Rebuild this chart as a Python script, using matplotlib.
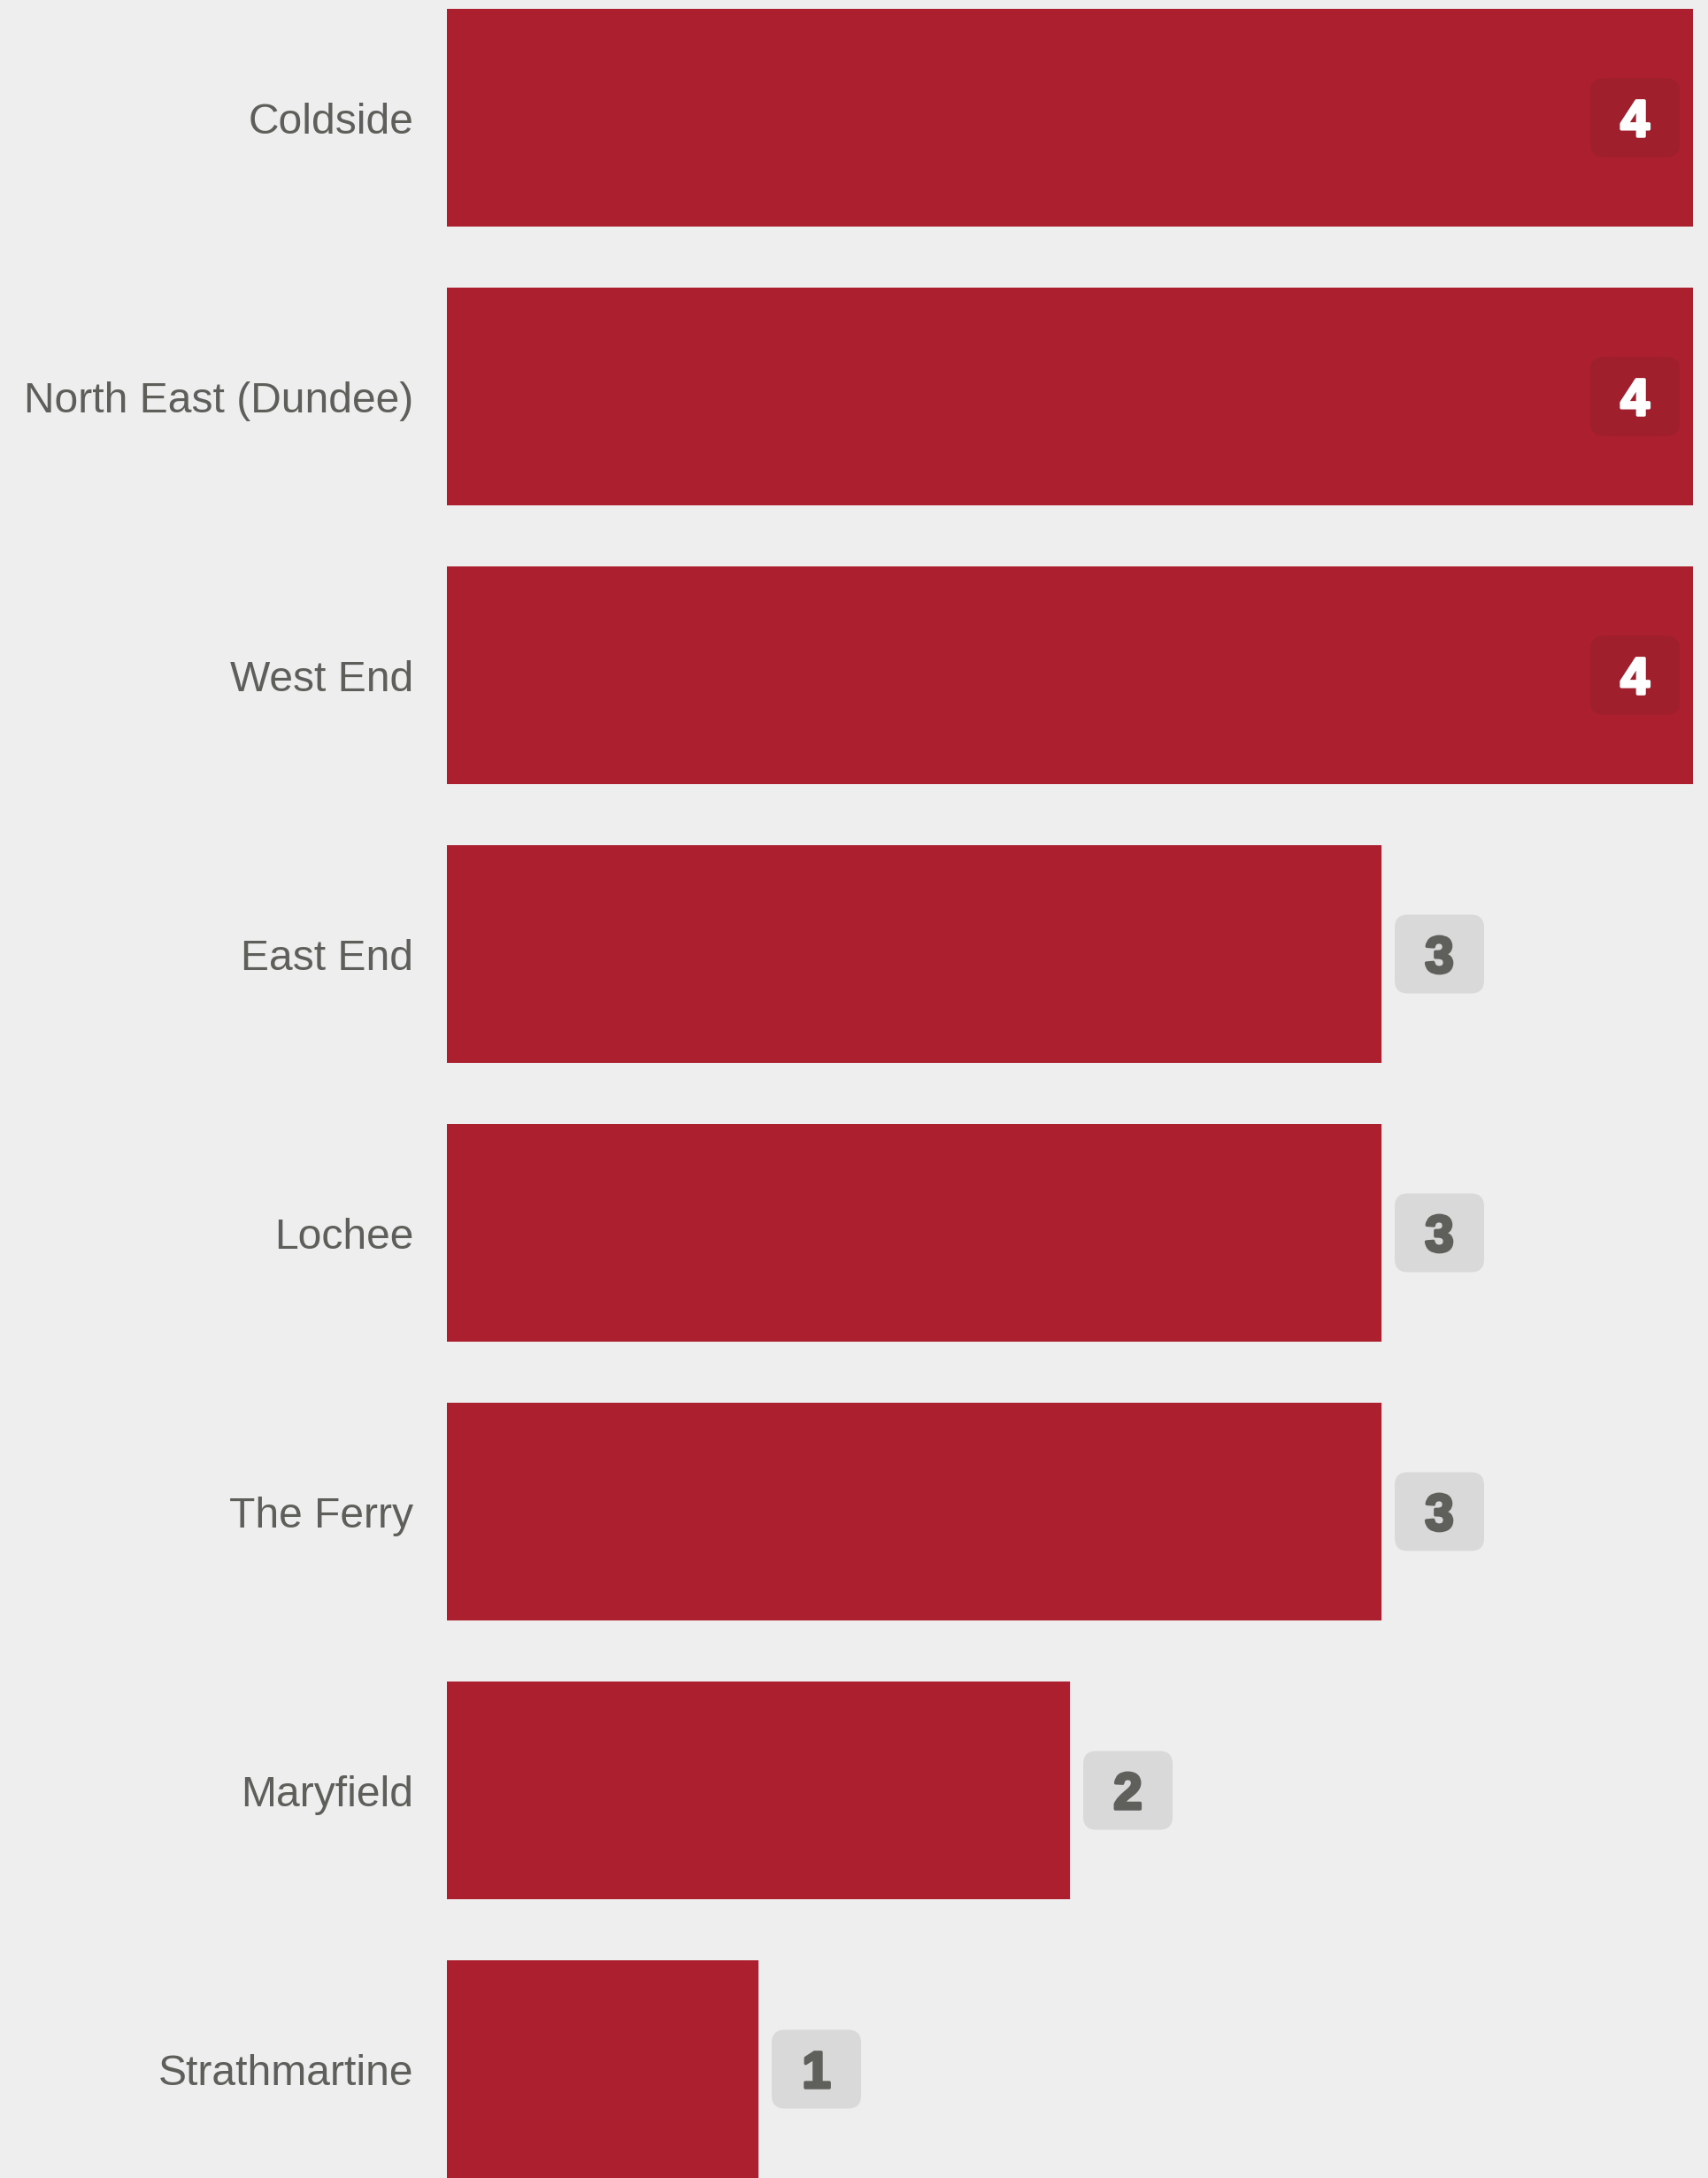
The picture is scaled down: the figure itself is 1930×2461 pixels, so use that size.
import matplotlib.pyplot as plt
import matplotlib.patheffects as pe
from matplotlib.patches import FancyBboxPatch

# Data
wards = [
    "Coldside",
    "North East (Dundee)",
    "West End",
    "East End",
    "Lochee",
    "The Ferry",
    "Maryfield",
    "Strathmartine",
]
counts = [4, 4, 4, 3, 3, 3, 2, 1]

bg = "#eeeeee"
bar_color = "#ab1f2e"
text_color = "#5e5e5b"

fig = plt.figure(figsize=(19.3, 24.61), dpi=100, facecolor=bg)
ax = fig.add_axes([0, 0, 1, 1])
ax.set_facecolor(bg)

# pixel scale: 352 px per unit in x, 315 px per row in y
px_x = 352.0
px_y = 315.0
ax.set_xlim(-505 / px_x, (1930 - 505) / px_x)
ax.set_ylim((2461 - 133) / px_y, -133 / px_y)

y_pos = list(range(len(wards)))
ax.barh(y_pos, counts, height=246 / px_y, color=bar_color, left=0)

max_val = max(counts)
box_w = 101 / px_x
box_h = 89 / px_y
gap = 15 / px_x

for y, name, v in zip(y_pos, wards, counts):
    ax.text(-38 / px_x, y + 18 / px_y, name, ha="right", va="baseline",
            fontsize=34.6, color=text_color, family="Liberation Sans")

    if v == max_val:
        x0 = v - gap - box_w
        fc = "#9f202c"
        tc = "white"
    else:
        x0 = v + gap
        fc = "#d9d9d9"
        tc = "#5f5f5c"
    box = FancyBboxPatch((x0, y - box_h / 2), box_w, box_h,
                         boxstyle="round,pad=0,rounding_size=0.042",
                         mutation_aspect=px_x / px_y,
                         fc=fc, ec="none")
    ax.add_patch(box)
    ax.text(x0 + box_w / 2, y + 21 / px_y, str(v), ha="center", va="baseline",
            fontsize=42, fontweight="bold", color=tc, family="Liberation Sans",
            path_effects=[pe.withStroke(linewidth=2.5, foreground=tc)])

ax.axis("off")

fig.savefig("out.png", dpi=100, facecolor=bg)
